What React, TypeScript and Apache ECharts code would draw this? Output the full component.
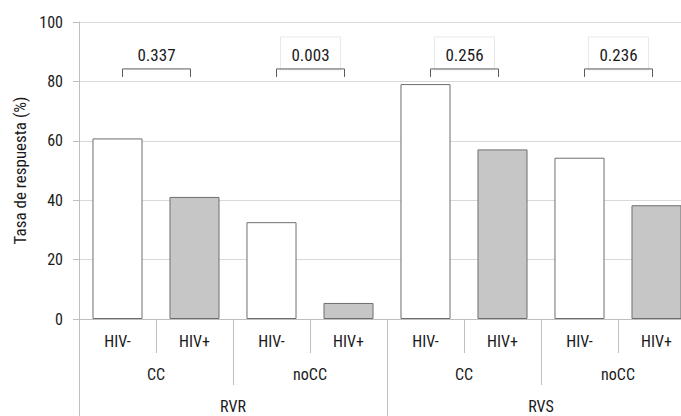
import React, { useEffect, useRef } from "react";
import * as echarts from "echarts";

const subgroups = ["HIV-", "HIV+", "HIV-", "HIV+", "HIV-", "HIV+", "HIV-", "HIV+"];
const groups = ["CC", "noCC", "CC", "noCC"];
const outcomes = ["RVR", "RVS"];
const rates = [60.8, 41.1, 32.6, 5.4, 79.1, 57.1, 54.3, 38.3];
const yTicks = [0, 20, 40, 60, 80, 100];
// bracket: [from category index, to category index, top value, end value]
const brackets = [
  [0, 1, 84.2, 81.5],
  [2, 3, 84.2, 81.5],
  [4, 5, 84.2, 81.5],
  [6, 7, 84.2, 81.5],
];
const pValues = ["0.337", "0.003", "0.256", "0.236"];
const pBoxed = [false, true, true, true];

const FONT = "'Liberation Sans Narrow', 'Roboto Condensed', 'DejaVu Sans Condensed', sans-serif";
const TEXT = "#1a1a1a";

export default function App() {
  const ref = useRef<HTMLDivElement>(null);
  useEffect(() => {
    if (!ref.current) return;
    const chart = echarts.init(ref.current, undefined, { renderer: "svg" });
    const gridColor = "#d9d9d9";
    const axisColor = "#bfbfbf";
    const option: any = {
      animation: false,
      backgroundColor: "#ffffff",
      textStyle: { fontFamily: FONT },
      grid: { left: 79, top: 22, width: 616, height: 297, containLabel: false },
      yAxis: {
        type: "value",
        min: yTicks[0],
        max: yTicks[yTicks.length - 1],
        interval: 20,
        name: "Tasa de respuesta (%)",
        nameLocation: "middle",
        nameGap: 51,
        nameTextStyle: { fontFamily: FONT, fontSize: 17, color: TEXT },
        axisLine: { show: true, lineStyle: { color: axisColor } },
        axisTick: { show: true, length: 6, lineStyle: { color: axisColor } },
        axisLabel: { fontFamily: FONT, fontSize: 16, color: TEXT, margin: 16 },
        splitLine: { show: true, lineStyle: { color: gridColor } },
      },
      xAxis: [
        {
          type: "category",
          data: subgroups,
          position: "bottom",
          axisLine: { show: true, lineStyle: { color: axisColor } },
          axisTick: { show: true, length: 34, interval: 0, lineStyle: { color: axisColor } },
          axisLabel: { fontFamily: FONT, fontSize: 16, color: TEXT, margin: 14, interval: 0 },
          splitLine: { show: false },
        },
        {
          type: "category",
          data: groups,
          position: "bottom",
          axisLine: { show: false },
          axisTick: { show: true, length: 66, interval: 0, lineStyle: { color: axisColor } },
          axisLabel: { fontFamily: FONT, fontSize: 16, color: TEXT, margin: 47, interval: 0 },
          splitLine: { show: false },
        },
        {
          type: "category",
          data: outcomes,
          position: "bottom",
          axisLine: { show: false },
          axisTick: { show: true, length: 110, interval: 0, lineStyle: { color: axisColor } },
          axisLabel: { fontFamily: FONT, fontSize: 16, color: TEXT, margin: 79, interval: 0 },
          splitLine: { show: false },
        },
      ],
      series: [
        {
          type: "bar",
          xAxisIndex: 0,
          barWidth: "65%",
          data: rates.map((v, i) => ({
            value: v,
            itemStyle: {
              color: subgroups[i] === "HIV+" ? "#c6c6c6" : "#ffffff",
              borderColor: "#6e6e6e",
              borderWidth: 1,
            },
          })),
        },
        {
          type: "custom",
          xAxisIndex: 0,
          data: brackets,
          z: 10,
          renderItem: (params: any, api: any) => {
            const a = api.coord([api.value(0), api.value(2)]);
            const b = api.coord([api.value(1), api.value(2)]);
            const dropY = api.coord([api.value(0), api.value(3)])[1];
            const x1 = a[0] + 5;
            const x2 = b[0] - 4;
            const y = a[1];
            const cx = (x1 + x2) / 2;
            const children: any[] = [];
            if (pBoxed[params.dataIndex]) {
              children.push({
                type: "rect",
                shape: { x: cx - 30, y: y - 32, width: 60, height: 33 },
                style: { fill: "rgba(255,255,255,0)", stroke: "#e8e8e8", lineWidth: 1 },
              });
            }
            children.push({
              type: "polyline",
              shape: { points: [[x1, dropY], [x1, y], [x2, y], [x2, dropY]] },
              style: { fill: "none", stroke: "#5a5a5a", lineWidth: 1 },
            });
            children.push({
              type: "text",
              x: cx,
              y: y - 14,
              style: {
                text: pValues[params.dataIndex],
                fill: TEXT,
                font: `17px ${FONT}`,
                align: "center",
                verticalAlign: "middle",
              },
            });
            return { type: "group", children };
          },
        },
      ],
    };
    chart.setOption(option);
    return () => chart.dispose();
  }, []);
  return (
    <div style={{ position: "fixed", left: 0, top: 0, width: 681, height: 416, overflow: "hidden", background: "#fff" }}>
      <div ref={ref} style={{ width: 720, height: 440 }} />
    </div>
  );
}
